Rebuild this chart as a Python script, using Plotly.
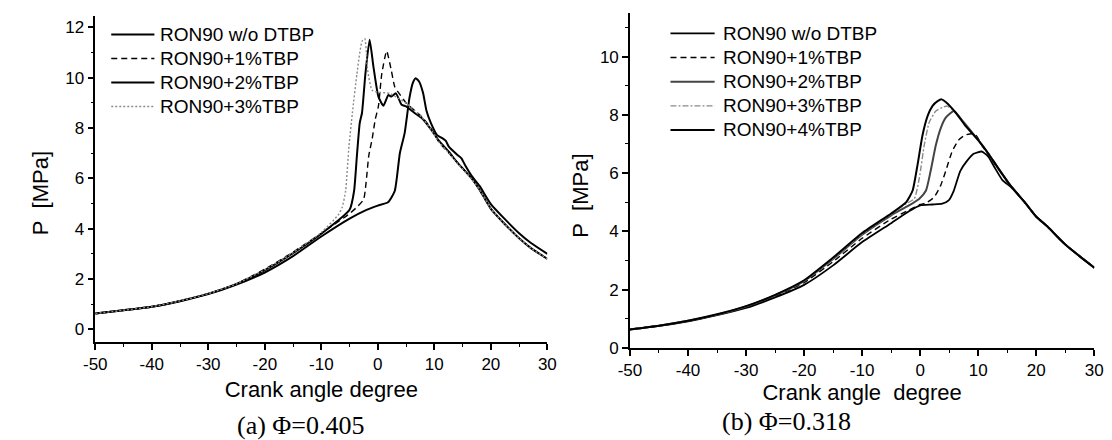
import plotly.graph_objects as go

# ---------------- data: (a) phi = 0.405 ----------------
a_names = ["RON90 w/o DTBP", "RON90+1%TBP", "RON90+2%TBP", "RON90+3%TBP"]

a0_x = [-50, -45, -40, -35, -30, -25, -20, -15, -10, -5, -2, 0, 1.8, 3.0, 3.9, 4.75, 5.6, 6.2, 6.7, 7.3,
        8.0, 8.6, 9.4, 10.5, 11.4, 12.0, 12.6, 14.0, 14.8, 15.5, 16.6, 18.0, 20.0, 22.4, 25.0, 27.1, 30.0]
a0_y = [0.63, 0.76, 0.90, 1.12, 1.40, 1.78, 2.26, 2.91, 3.69, 4.40, 4.75, 4.92, 5.05, 5.50, 7.00, 7.80,
        9.20, 9.80, 9.98, 9.85, 9.40, 8.70, 8.20, 7.72, 7.60, 7.50, 7.25, 6.95, 6.80, 6.50, 6.10, 5.70,
        4.98, 4.40, 3.82, 3.43, 3.00]

a1_x = [-50, -45, -40, -35, -30, -25, -20, -15, -10, -5, -3.5, -2.5, -1.6, -1.0, -0.46, 0.1, 0.7, 1.56,
        2.4, 3.0, 4.0, 5.0, 6.5, 7.9, 9.4, 10.8, 12.6, 14.0, 16.6, 18.0, 20.0, 22.4, 25.0, 27.1, 30.0]
a1_y = [0.63, 0.76, 0.90, 1.13, 1.42, 1.81, 2.39, 3.07, 3.82, 4.60, 4.90, 5.17, 6.90, 7.57, 8.34, 8.86,
        10.15, 11.06, 10.28, 9.64, 9.30, 9.00, 8.70, 8.42, 8.00, 7.45, 7.00, 6.65, 6.00, 5.55, 4.79,
        4.20, 3.62, 3.23, 2.80]

a2_x = [-50, -45, -40, -35, -30, -25, -20, -15, -10, -5, -4.2, -3.7, -3.2, -2.8, -2.2, -1.45, -0.75,
        0.1, 1.0, 1.85, 2.4, 3.2, 4.2, 5.0, 6.5, 7.9, 9.4, 10.8, 12.6, 14.0, 16.6, 18.0, 20.0, 22.4,
        25.0, 27.1, 30.0]
a2_y = [0.63, 0.76, 0.90, 1.13, 1.42, 1.81, 2.35, 3.03, 3.80, 4.75, 5.50, 6.90, 8.20, 8.60, 10.15,
        11.51, 10.40, 9.25, 8.89, 9.31, 9.25, 9.38, 8.93, 8.86, 8.60, 8.37, 7.95, 7.50, 7.05, 6.65,
        6.00, 5.55, 4.79, 4.20, 3.62, 3.23, 2.80]

a3_x = [-50, -45, -40, -35, -30, -25, -20, -15, -10, -7, -6.3, -5.7, -5.1, -4.5, -3.7, -2.8, -2.3,
        -1.8, -1.0, 0.4, 2.1, 3.5, 5.0, 6.5, 7.9, 9.4, 10.8, 12.6, 14.0, 16.6, 18.0, 20.0, 22.4, 25.0,
        27.1, 30.0]
a3_y = [0.63, 0.76, 0.90, 1.13, 1.42, 1.81, 2.37, 3.05, 3.85, 4.55, 4.85, 5.50, 7.30, 8.60, 10.15,
        11.45, 11.55, 10.30, 9.50, 9.42, 9.38, 9.20, 9.00, 8.70, 8.40, 7.95, 7.45, 7.00, 6.62, 5.98,
        5.55, 4.79, 4.20, 3.62, 3.23, 2.80]

# ---------------- data: (b) phi = 0.318 ----------------
b_names = ["RON90 w/o DTBP", "RON90+1%TBP", "RON90+2%TBP", "RON90+3%TBP", "RON90+4%TBP"]

b0_x = [-50, -45, -40, -35, -30, -25, -20, -15, -10, -5, -2, 0, 2.1, 3.8, 4.9, 5.8, 6.9, 8.0, 9.2,
        10.6, 11.7, 12.8, 14.2, 15.6, 18.0, 20.0, 22.0, 24.1, 25.0, 27.5, 30.0]
b0_y = [0.63, 0.75, 0.91, 1.12, 1.37, 1.73, 2.16, 2.83, 3.63, 4.28, 4.68, 4.89, 4.92, 4.95, 5.06,
        5.40, 6.07, 6.40, 6.66, 6.74, 6.57, 6.20, 5.75, 5.53, 5.00, 4.50, 4.15, 3.72, 3.55, 3.14, 2.75]

b1_x = [-50, -45, -40, -35, -30, -25, -20, -15, -10, -5, -2, 0, 1.0, 2.4, 3.5, 4.4, 5.5, 6.6, 7.7,
        8.9, 9.6, 10.6, 11.7, 13.4, 15.6, 18.0, 20.0, 22.0, 24.1, 25.0, 27.5, 30.0]
b1_y = [0.63, 0.76, 0.92, 1.13, 1.40, 1.77, 2.24, 2.96, 3.76, 4.42, 4.72, 4.92, 4.97, 5.17, 5.56,
        6.07, 6.74, 7.13, 7.30, 7.35, 7.30, 6.96, 6.63, 6.16, 5.56, 5.00, 4.50, 4.15, 3.72, 3.55, 3.14,
        2.75]

b2_x = [-50, -45, -40, -35, -30, -25, -20, -15, -10, -5, -2, -0.14, 1.0, 1.8, 2.7, 3.5, 4.4, 5.8,
        7.2, 10.0, 11.7, 13.4, 15.6, 18.0, 20.0, 22.0, 24.1, 25.0, 27.5, 30.0]
b2_y = [0.63, 0.76, 0.93, 1.14, 1.42, 1.80, 2.29, 3.05, 3.88, 4.55, 4.88, 5.12, 5.40, 6.07, 6.96,
        7.52, 7.90, 8.13, 7.82, 7.13, 6.68, 6.18, 5.56, 5.00, 4.50, 4.15, 3.72, 3.55, 3.14, 2.75]

b3_x = [-50, -45, -40, -35, -30, -25, -20, -15, -10, -5, -2.4, -1.0, -0.14, 0.7, 1.55, 2.7, 3.8,
        4.65, 6.1, 7.7, 10.0, 11.7, 13.4, 15.6, 18.0, 20.0, 22.0, 24.1, 25.0, 27.5, 30.0]
b3_y = [0.63, 0.76, 0.93, 1.14, 1.42, 1.81, 2.30, 3.07, 3.91, 4.58, 4.95, 5.12, 5.84, 6.96, 7.74,
        8.13, 8.25, 8.30, 8.08, 7.65, 7.13, 6.68, 6.18, 5.56, 5.00, 4.50, 4.15, 3.72, 3.55, 3.14, 2.75]

b4_x = [-50, -45, -40, -35, -30, -25, -20, -15, -10, -5, -2.4, -1.3, -0.45, 0.4, 1.3, 2.1, 3.0, 3.7,
        4.4, 6.1, 7.7, 10.0, 11.7, 13.4, 15.6, 18.0, 20.0, 22.0, 24.1, 25.0, 27.5, 30.0]
b4_y = [0.63, 0.76, 0.93, 1.15, 1.43, 1.82, 2.32, 3.10, 3.94, 4.61, 5.00, 5.40, 6.29, 7.30, 7.97,
        8.30, 8.47, 8.53, 8.44, 8.08, 7.65, 7.13, 6.68, 6.18, 5.56, 5.00, 4.50, 4.15, 3.72, 3.55, 3.14,
        2.75]

x_ticks = [-50, -40, -30, -20, -10, 0, 10, 20, 30]
x_ticklabels = ["-50", "-40", "-30", "-20", "-10", "0", "10", "20", "30"]

SANS = "Arial, 'Liberation Sans', sans-serif"
SERIF = "'Times New Roman', 'Liberation Serif', serif"

a_styles = [dict(color="black", width=2.0, dash="solid"),
            dict(color="black", width=1.4, dash="6px,4px"),
            dict(color="black", width=2.0, dash="solid"),
            dict(color="#8a8a8a", width=1.4, dash="2px,2px")]
b_styles = [dict(color="black", width=1.8, dash="solid"),
            dict(color="black", width=1.4, dash="6px,4px"),
            dict(color="#444444", width=2.0, dash="solid"),
            dict(color="#8a8a8a", width=1.4, dash="6px,2px,2px,2px"),
            dict(color="black", width=2.0, dash="solid")]

W, H = 1112, 440

fig = go.Figure()
a_data = [(a0_x, a0_y), (a1_x, a1_y), (a2_x, a2_y), (a3_x, a3_y)]
for (xs, ys), nm, st in zip(a_data, a_names, a_styles):
    fig.add_trace(go.Scatter(x=xs, y=ys, name=nm, mode="lines", showlegend=False,
                             line=dict(shape="spline", smoothing=0.5, **st), xaxis="x", yaxis="y"))
b_data = [(b0_x, b0_y), (b1_x, b1_y), (b2_x, b2_y), (b3_x, b3_y), (b4_x, b4_y)]
for (xs, ys), nm, st in zip(b_data, b_names, b_styles):
    fig.add_trace(go.Scatter(x=xs, y=ys, name=nm, mode="lines", showlegend=False,
                             line=dict(shape="spline", smoothing=0.5, **st), xaxis="x2", yaxis="y2"))

# legend keys (drawn in paper space, one row per series)
shapes, annotations = [], []


def add_key(names, styles, x_line0, x_line1, x_text, row0, row_step):
    for i, (nm, st) in enumerate(zip(names, styles)):
        yy = 1 - (row0 + i * row_step) / H
        shapes.append(dict(type="line", xref="paper", yref="paper", x0=x_line0 / W, x1=x_line1 / W,
                           y0=yy, y1=yy, line=dict(color=st["color"], width=st["width"], dash=st["dash"])))
        annotations.append(dict(text=nm, x=x_text / W, y=yy, xref="paper", yref="paper", showarrow=False,
                                xanchor="left", yanchor="middle",
                                font=dict(family=SANS, size=19, color="black")))


add_key(a_names, a_styles, 93, 137, 141, 27, 24.6)
add_key(b_names, b_styles, 663, 708, 714, 26, 24.7)


def axis_common():
    return dict(showline=True, linecolor="black", linewidth=1.5, mirror=False, showgrid=False,
                zeroline=False, ticks="outside", ticklen=6, tickwidth=1.5, tickcolor="black",
                tickfont=dict(family=SANS, size=17, color="black"))


xa = axis_common()
xa.update(domain=[76.7 / W, 537.5 / W], range=[-50, 30], tickvals=x_ticks, ticktext=x_ticklabels, anchor="y",
          minor=dict(dtick=5, tick0=-50, ticks="outside", ticklen=3, tickwidth=1.2, tickcolor="black"),
          title=dict(text="Crank angle degree", font=dict(family=SANS, size=22, color="black"), standoff=9))
ya = axis_common()
ya.update(domain=[(H - 341.7) / H, (H - 8.3) / H], range=[-0.5, 12.45], tick0=0, dtick=2, anchor="x",
          minor=dict(dtick=1, tick0=0, ticks="outside", ticklen=3, tickwidth=1.2, tickcolor="black"))
xb = axis_common()
xb.update(domain=[621.7 / W, 1095 / W], range=[-50, 30], tickvals=x_ticks, ticktext=x_ticklabels, anchor="y2",
          minor=dict(dtick=5, tick0=-50, ticks="outside", ticklen=3, tickwidth=1.2, tickcolor="black"),
          title=dict(text="Crank angle\u00a0 degree", font=dict(family=SANS, size=22, color="black"), standoff=0))
yb = axis_common()
yb.update(domain=[(H - 347.7) / H, (H - 5) / H], range=[0, 11.5], tick0=0, dtick=2, anchor="x2",
          minor=dict(dtick=1, tick0=0, ticks="outside", ticklen=3, tickwidth=1.2, tickcolor="black"))

annotations += [
    dict(text="P\u00a0 [MPa]", x=21 / W, y=1 - 190 / H, xref="paper", yref="paper", textangle=-90,
         showarrow=False, font=dict(family=SANS, size=22, color="black"), xanchor="center", yanchor="middle"),
    dict(text="P\u00a0 [MPa]", x=571 / W, y=1 - 192 / H, xref="paper", yref="paper", textangle=-90,
         showarrow=False, font=dict(family=SANS, size=22, color="black"), xanchor="center", yanchor="middle"),
    dict(text="(a) \u03a6=0.405", x=286 / W, y=1 - 427 / H, xref="paper", yref="paper", showarrow=False,
         font=dict(family=SERIF, size=26, color="black"), xanchor="center", yanchor="middle"),
    dict(text="(b) \u03a6=0.318", x=781 / W, y=1 - 423 / H, xref="paper", yref="paper", showarrow=False,
         font=dict(family=SERIF, size=26, color="black"), xanchor="center", yanchor="middle"),
]

fig.update_layout(
    width=W, height=H, margin=dict(l=0, r=0, t=0, b=0),
    paper_bgcolor="white", plot_bgcolor="white",
    font=dict(family=SANS, color="black"), showlegend=False,
    xaxis=xa, yaxis=ya, xaxis2=xb, yaxis2=yb,
    shapes=shapes, annotations=annotations,
)

fig.write_html("out.html")
